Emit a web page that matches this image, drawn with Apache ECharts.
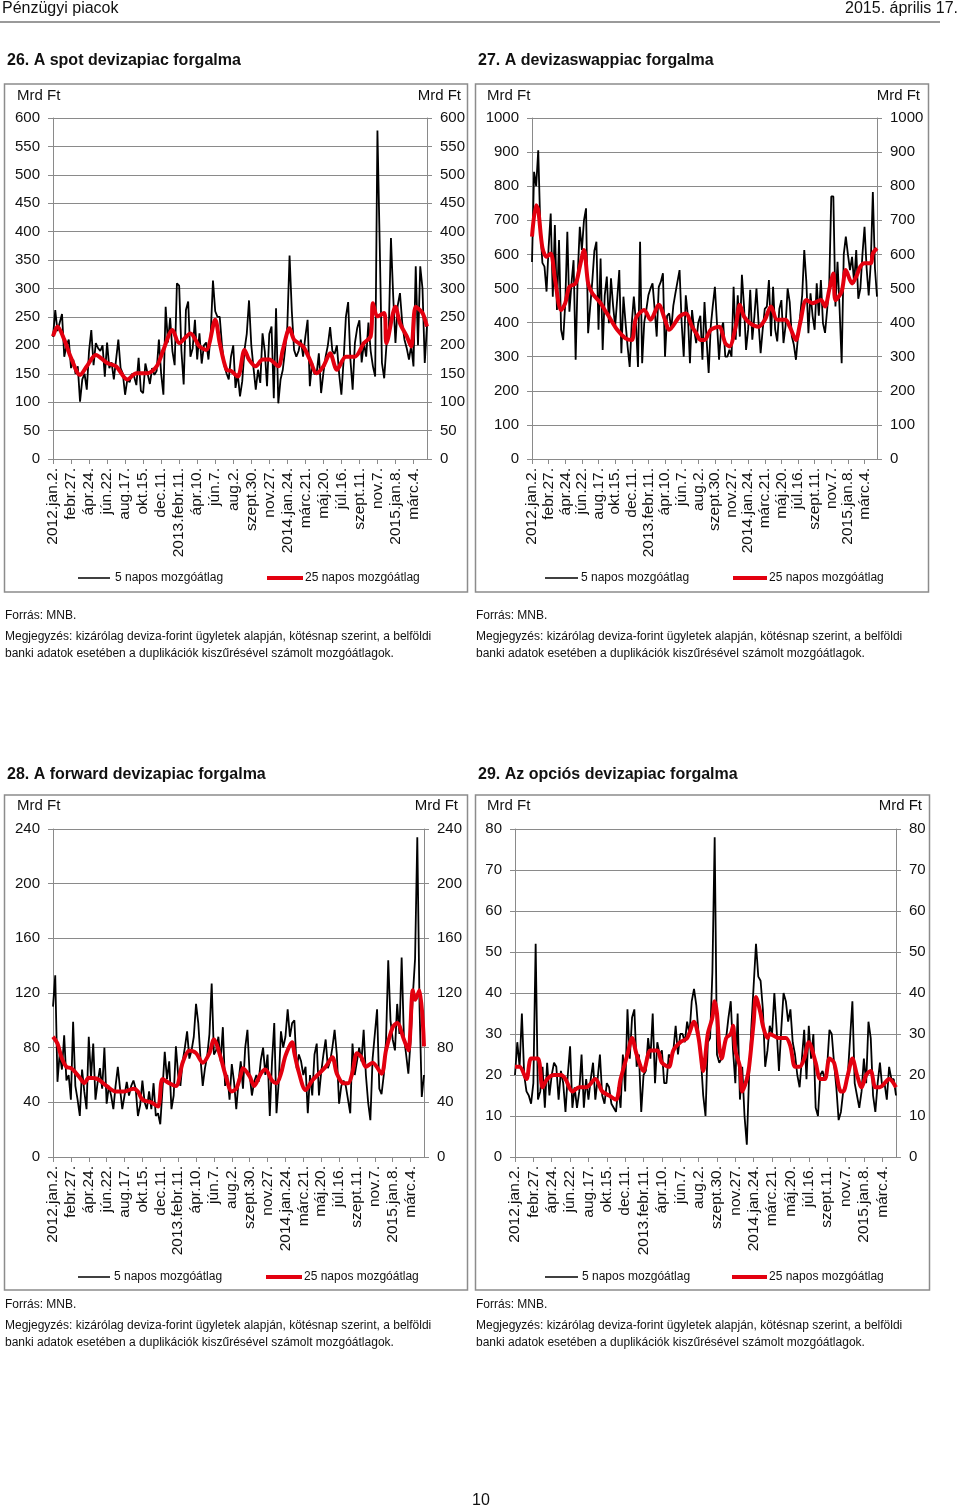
<!DOCTYPE html>
<html><head><meta charset="utf-8">
<script src="https://cdn.jsdelivr.net/npm/echarts@6/dist/echarts.min.js"></script>
<style>html,body{margin:0;padding:0;background:#fff}#c{width:960px;height:1510px}</style>
</head><body><div id="c"></div>
<script>
// ---------- DATA ----------
const xLabels = ['2012.jan.2.','febr.27.','ápr.24.','jún.22.','aug.17.','okt.15.','dec.11.','2013.febr.11.','ápr.10.','jún.7.','aug.2.','szept.30.','nov.27.','2014.jan.24.','márc.21.','máj.20.','júl.16.','szept.11.','nov.7.','2015.jan.8.','márc.4.'];
const nPoints = 167; // ~weekly samples, 8 per label step

// 26. spot – 5 napos mozgóátlag
const spot5 = [215,262,225,240,255,180,200,210,160,175,150,163,101,140,150,122,190,227,165,204,195,190,200,145,205,160,170,140,175,210,160,150,113,140,135,150,145,130,178,120,116,168,150,132,160,148,155,210,150,113,268,205,248,190,165,309,305,190,131,262,277,180,195,245,175,221,168,200,205,175,220,314,260,250,250,200,165,151,140,180,200,125,150,110,
137,192,220,279,201,160,122,157,134,221,190,128,220,233,107,265,98,140,157,192,233,358,260,192,180,190,210,180,215,245,128,170,150,150,186,116,151,180,200,232,190,185,200,150,113,175,250,276,175,122,204,230,244,170,204,180,240,190,163,145,578,380,169,142,200,220,389,286,204,270,292,240,210,195,175,200,163,339,200,339,300,169,235];
// 26. spot – 25 napos mozgóátlag [index, value]
const spot25 = [[0,216],[2,233],[5,210],[8,178],[12,148],[15,163],[19,183],[24,169],[28,163],[33,140],[37,151],[42,151],[46,163],[49,192],[53,227],[56,204],[61,221],[65,198],[68,192],[72,245],[74,204],[77,157],[79,155],[82,145],[85,192],[87,175],[90,163],[93,175],[96,175],[100,163],[102,192],[105,230],[107,210],[111,198],[114,175],[117,151],[120,163],[123,186],[126,157],[130,180],[134,180],[138,204],[141,216],[142,274],[144,251],[147,257],[148,204],[152,268],[154,239],[157,216],[159,198],[161,268],[164,257],[166,233]];

// 27. swap
const swap5 = [578,842,800,905,680,575,564,491,622,720,476,686,437,642,379,349,457,666,432,515,583,291,540,681,613,700,735,369,447,520,610,637,379,588,320,480,535,398,530,450,388,470,554,310,476,400,330,270,398,476,400,270,637,281,400,437,480,500,515,440,359,505,520,545,300,420,427,380,450,486,520,554,400,300,480,420,281,437,380,340,400,420,291,460,350,252,
388,450,505,398,291,380,400,300,300,320,300,505,350,480,359,540,450,320,380,496,350,418,500,400,310,380,440,447,525,360,505,380,345,440,466,340,390,500,460,360,335,291,360,418,480,613,520,369,486,420,379,515,420,525,398,370,437,510,770,770,447,578,440,281,600,652,600,554,593,515,613,470,500,600,681,560,480,574,783,560,476];
const swap25 = [[0,652],[2,744],[3,730],[5,620],[7,593],[9,603],[11,530],[14,437],[16,457],[18,505],[21,515],[23,564],[25,613],[27,515],[29,486],[33,457],[35,437],[37,418],[41,379],[45,354],[48,349],[50,413],[54,437],[57,408],[61,452],[64,408],[66,379],[71,418],[74,427],[77,388],[79,369],[81,349],[83,349],[86,379],[90,388],[93,340],[95,330],[98,388],[100,452],[102,418],[105,398],[109,388],[112,408],[115,447],[118,408],[122,408],[124,388],[127,349],[129,398],[132,466],[135,457],[139,466],[141,447],[143,496],[145,544],[146,466],[149,491],[151,554],[154,515],[156,535],[158,564],[160,574],[163,574],[164,603],[166,618]];

// 28. forward
const fwd5 = [110,133,55,76,64,89,56,60,42,99,52,42,30,64,48,35,88,58,83,42,55,65,50,80,39,52,45,35,52,66,50,35,45,55,45,52,56,50,30,38,56,40,35,48,35,54,30,32,24,50,77,57,70,35,45,81,60,52,70,80,92,72,78,88,112,98,72,52,65,74,90,127,75,78,88,70,95,52,60,42,68,55,35,55,
70,50,80,93,60,45,55,60,55,71,80,60,75,30,70,98,32,55,92,80,88,108,88,98,100,65,75,70,60,66,32,60,45,75,83,45,62,75,86,65,70,80,93,75,39,52,56,52,42,32,83,60,70,80,70,93,60,40,27,72,90,108,50,46,60,85,144,100,86,78,112,90,146,88,75,61,85,118,145,234,110,44,60];
const fwd25 = [[0,88],[2,83],[4,72],[6,66],[8,65],[10,62],[12,58],[14,54],[16,58],[20,57],[24,52],[28,48],[32,48],[36,50],[38,48],[40,42],[44,40],[47,37],[49,57],[52,54],[55,52],[58,69],[61,78],[64,76],[67,69],[70,76],[72,86],[75,73],[77,61],[80,48],[82,50],[84,60],[85,65],[88,59],[90,52],[93,61],[95,64],[98,56],[100,54],[102,61],[104,74],[107,84],[108,76],[110,62],[113,49],[116,56],[119,61],[122,66],[125,73],[127,61],[130,54],[132,54],[134,62],[136,76],[138,73],[140,66],[143,69],[147,61],[149,78],[152,95],[154,98],[157,86],[159,78],[161,122],[162,115],[164,122],[166,81]];

// 29. opciós
const opt5 = [20,28,22,35,20,16,15,13,18,52,14,16,22,12,23,15,20,23,22,14,21,18,11,20,27,12,17,12,16,25,12,19,14,19,23,14,19,25,15,13,18,17,13,12,11,17,12,25,16,36,24,34,36,22,25,11,20,21,29,24,35,18,28,25,26,18,18,25,24,26,32,25,30,30,28,33,30,38,41,37,30,24,15,10,28,
29,45,78,25,23,24,26,29,34,38,26,18,35,14,22,10,3,20,32,42,52,44,43,36,22,26,32,30,40,31,21,31,40,38,33,36,28,25,20,17,24,31,19,32,24,30,12,10,20,21,19,22,31,30,23,17,9,11,16,17,20,29,38,18,15,12,16,24,18,33,29,15,11,18,23,17,18,14,22,19,19,15];
const opt25 = [[0,22],[2,22],[5,19],[7,24],[10,24],[12,17],[14,19],[17,20],[20,20],[22,19],[25,16],[28,17],[31,17],[35,19],[38,16],[41,15],[44,14],[46,19],[49,25],[51,29],[53,25],[56,21],[59,26],[62,26],[64,23],[67,22],[69,26],[72,28],[75,29],[78,33],[80,29],[82,21],[84,30],[86,34],[87,38],[88,35],[89,27],[90,24],[92,29],[94,30],[95,32],[96,26],[98,22],[99,16],[101,19],[102,22],[104,33],[105,39],[107,35],[108,32],[110,29],[111,30],[115,29],[118,29],[120,27],[122,22],[124,22],[126,24],[128,28],[131,23],[133,19],[135,19],[137,24],[139,23],[142,16],[143,16],[145,20],[147,24],[149,20],[151,17],[153,20],[155,21],[157,17],[159,17],[161,18],[163,19],[166,17]];

const titles = ['26. A spot devizapiac forgalma','27. A devizaswappiac forgalma','28. A forward devizapiac forgalma','29. Az opciós devizapiac forgalma'];
const yMax = [600,1000,240,80];
const yStep = [50,100,40,10];
const legendNames = ['5 napos mozgóátlag','25 napos mozgóátlag'];

// ---------- LAYOUT ----------
const FONT = 'Liberation Sans';
const TXT = '#111';
const GRIDC = '#8a8a8a';
const cats = Array.from({length:nPoints},(_,i)=>String(i));
const grids = [
  {left:53, top:118, width:374, height:341},
  {left:532, top:118, width:345, height:341},
  {left:53, top:829, width:371, height:328},
  {left:515, top:829, width:381, height:328}
];
const blacks = [spot5, swap5, fwd5, opt5];
const reds = [spot25, swap25, fwd25, opt25];

const xAxis = [], yAxis = [], series = [];
grids.forEach((g,k)=>{
  xAxis.push({
    gridIndex:k, type:'category', data:cats, boundaryGap:false,
    axisLine:{lineStyle:{color:GRIDC,width:1}},
    axisTick:{show:true, interval:7, length:5, lineStyle:{color:GRIDC}},
    axisLabel:{interval:7, rotate:90, margin:9, fontSize:15.5, fontFamily:FONT, color:TXT,
      formatter:(v,idx)=> xLabels[Math.round(idx/8)] || ''},
    splitLine:{show:false}
  });
  const base = {
    gridIndex:k, type:'value', min:0, max:yMax[k], interval:yStep[k],
    axisLine:{show:true, lineStyle:{color:GRIDC}},
    axisTick:{show:true, length:5, lineStyle:{color:GRIDC}},
    axisLabel:{fontSize:15, fontFamily:FONT, color:TXT, margin:13, formatter:v=>String(v)}
  };
  yAxis.push(Object.assign({}, base, {position:'left', splitLine:{show:true, lineStyle:{color:GRIDC,width:1}}}));
  yAxis.push(Object.assign({}, base, {position:'right', splitLine:{show:false}}));
  series.push({
    name:legendNames[0], type:'line', xAxisIndex:k, yAxisIndex:2*k, data:blacks[k],
    symbol:'none', lineStyle:{color:'#000', width:1.8}, z:3, animation:false
  });
  series.push({
    name:legendNames[1], type:'line', xAxisIndex:k, yAxisIndex:2*k, data:reds[k],
    symbol:'none', smooth:0.3, lineStyle:{color:'#e3000f', width:4}, z:4, animation:false
  });
});

// ---------- GRAPHIC (titles, frames, notes, legends) ----------
const G = [];
function txt(x,y,t,o){ G.push({type:'text', x:x, y:y, silent:true,
  style:Object.assign({text:t, fill:TXT, font:'15px "'+FONT+'"', textVerticalAlign:'middle', textAlign:'left'}, o||{})}); }
function line(x1,y1,x2,y2,c,w){ G.push({type:'line', silent:true, shape:{x1:x1,y1:y1,x2:x2,y2:y2}, style:{stroke:c,lineWidth:w}}); }
function rect(x,y,w,h){ G.push({type:'rect', silent:true, shape:{x:x,y:y,width:w,height:h}, style:{fill:null, stroke:'#8c8c8c', lineWidth:1.5}}); }

// header
txt(2,9,'Pénzügyi piacok',{font:'16px "'+FONT+'"'});
txt(958,9,'2015. április 17.',{font:'16px "'+FONT+'"', textAlign:'right'});
line(0,22,940,22,'#9a9a9a',2);

const panels = [
  {x:4.5, y:84, w:463, h:508, tx:7, ty:61, ml:17, mr:461, my:96, ly:578, bl:[78,110], bt:115, rl:[267,303], rt:305, fy:616},
  {x:475.5, y:84, w:453, h:508, tx:478, ty:61, ml:487, mr:920, my:96, ly:578, bl:[545,578], bt:581, rl:[733,767], rt:769, fy:616},
  {x:4.5, y:795, w:463, h:495, tx:7, ty:775, ml:17, mr:458, my:806, ly:1277, bl:[78,110], bt:114, rl:[266,302], rt:304, fy:1305},
  {x:475.5, y:795, w:454, h:495, tx:478, ty:775, ml:487, mr:922, my:806, ly:1277, bl:[545,578], bt:582, rl:[732,767], rt:769, fy:1305}
];
panels.forEach((p,k)=>{
  txt(p.tx,p.ty,titles[k],{font:'bold 16px "'+FONT+'"'});
  rect(p.x,p.y,p.w,p.h);
  txt(p.ml,p.my,'Mrd Ft');
  txt(p.mr,p.my,'Mrd Ft',{textAlign:'right'});
  line(p.bl[0],p.ly,p.bl[1],p.ly,'#000',1.5);
  txt(p.bt,p.ly,legendNames[0],{font:'12px "'+FONT+'"'});
  line(p.rl[0],p.ly,p.rl[1],p.ly,'#e3000f',4);
  txt(p.rt,p.ly,legendNames[1],{font:'12px "'+FONT+'"'});
  const nx = (k%2===0)?5:476;
  txt(nx,p.fy,'Forrás: MNB.',{font:'12px "'+FONT+'"'});
  txt(nx,p.fy+21,'Megjegyzés: kizárólag deviza-forint ügyletek alapján, kötésnap szerint, a belföldi',{font:'12px "'+FONT+'"'});
  txt(nx,p.fy+38,'banki adatok esetében a duplikációk kiszűrésével számolt mozgóátlagok.',{font:'12px "'+FONT+'"'});
});
txt(481,1501,'10',{font:'16px "'+FONT+'"', textAlign:'center'});

const chart = echarts.init(document.getElementById('c'), null, {renderer:'canvas', width:960, height:1510});
chart.setOption({
  animation:false,
  backgroundColor:'#fff',
  grid: grids.map(g=>Object.assign({containLabel:false}, g)),
  xAxis: xAxis, yAxis: yAxis, series: series,
  graphic: G
});
</script></body></html>
